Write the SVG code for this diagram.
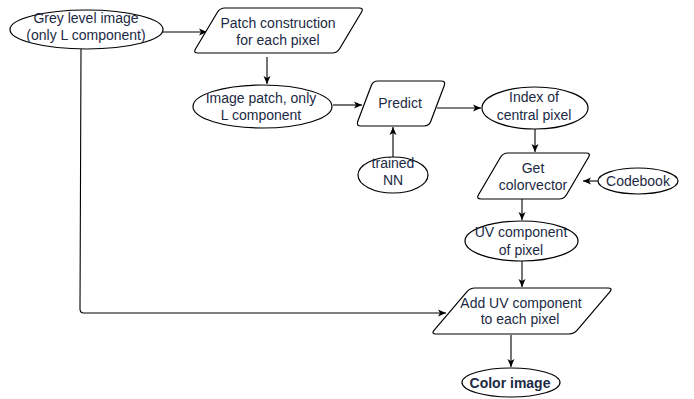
<svg xmlns="http://www.w3.org/2000/svg" width="694" height="399" viewBox="0 0 694 399">
<defs>
<marker id="arr" markerUnits="userSpaceOnUse" markerWidth="9" markerHeight="8" refX="8" refY="4" orient="auto">
<path d="M0,0.5 L8,4 L0,7.5 L2,4 Z" fill="#000"/>
</marker>
<style>
.shape{fill:#fff;stroke:#000;stroke-width:1.2}
.edge{fill:none;stroke:#000;stroke-width:1.1;marker-end:url(#arr)}
text{font-family:"Liberation Sans",Arial,Helvetica,sans-serif;font-size:14px;fill:#1c2a45;text-anchor:middle}
.b{font-weight:bold}
</style>
</defs>
<rect width="694" height="399" fill="#fff"/>
<g id="connectors">
<path class="edge" d="M163,32 L207,32"/>
<path class="edge" d="M267,57 L267,84"/>
<path class="edge" d="M333,105 L362,105"/>
<path class="edge" d="M437,108 L481,108"/>
<path class="edge" d="M393,157 L393,127"/>
<path class="edge" d="M535,129 L535,152"/>
<path class="edge" d="M598,181 L583,181"/>
<path class="edge" d="M522,199 L522,220"/>
<path class="edge" d="M522,261 L522,287"/>
<path class="edge" d="M81,49 L80,309 Q80,313 84,313 L446,313"/>
<path class="edge" d="M511,335 L511,367"/>
</g>
<g id="grey">
<ellipse class="shape" cx="86.5" cy="29.5" rx="76.5" ry="19.5"/>
<text x="86" y="23">Grey level image</text>
<text x="86" y="40">(only L component)</text>
</g>
<g id="patch">
<path class="shape" d="M225,8 L359,8 Q364,8 361.4,12.3 L339.6,48.7 Q337,53 332,53 L198,53 Q193,53 195.6,48.7 L217.4,12.3 Q220,8 225,8 Z"/>
<text x="278" y="28">Patch construction</text>
<text x="278" y="45">for each pixel</text>
</g>
<g id="imagepatch">
<ellipse class="shape" cx="262.5" cy="106.5" rx="69.5" ry="21.5"/>
<text x="261" y="103">Image patch, only</text>
<text x="261" y="120">L component</text>
</g>
<g id="predict">
<path class="shape" d="M378,81 L441,81 Q446,81 444.2,85.7 L430.8,121.3 Q429,126 424,126 L361,126 Q356,126 357.8,121.3 L371.2,85.7 Q373,81 378,81 Z"/>
<text x="400" y="108">Predict</text>
</g>
<g id="index">
<ellipse class="shape" cx="535" cy="108" rx="53" ry="21"/>
<text x="534" y="102">Index of</text>
<text x="534" y="120">central pixel</text>
</g>
<g id="trained">
<ellipse class="shape" cx="393" cy="175" rx="35" ry="18"/>
<text x="393" y="168">trained</text>
<text x="393" y="185">NN</text>
</g>
<g id="getcolor">
<path class="shape" d="M508,153 L586,153 Q591,153 588.5,157.3 L566.5,194.7 Q564,199 559,199 L481,199 Q476,199 478.5,194.7 L500.5,157.3 Q503,153 508,153 Z"/>
<text x="533" y="173">Get</text>
<text x="533" y="190">colorvector</text>
</g>
<g id="codebook">
<ellipse class="shape" cx="638" cy="181" rx="40" ry="13"/>
<text x="638" y="186">Codebook</text>
</g>
<g id="uv">
<ellipse class="shape" cx="521.5" cy="241" rx="56.5" ry="20"/>
<text x="521" y="237">UV component</text>
<text x="521" y="255">of pixel</text>
</g>
<g id="adduv">
<path class="shape" d="M475,288 L608,288 Q613,288 609.8,291.8 L577.2,330.2 Q574,334 569,334 L436,334 Q431,334 434.2,330.2 L466.8,291.8 Q470,288 475,288 Z"/>
<text x="521" y="308">Add UV component</text>
<text x="520" y="324">to each pixel</text>
</g>
<g id="colorimage">
<ellipse class="shape" cx="511" cy="382.5" rx="49" ry="14.5"/>
<text class="b" x="510" y="388">Color image</text>
</g>
</svg>
